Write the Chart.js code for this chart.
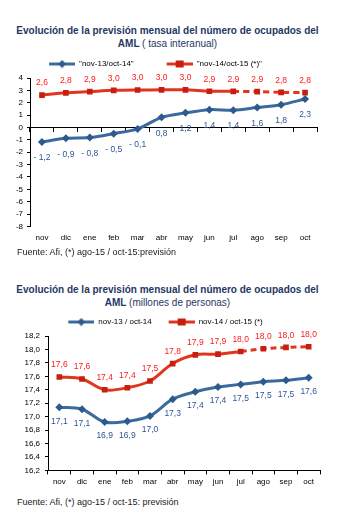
<!DOCTYPE html>
<html>
<head>
<meta charset="utf-8">
<script src="https://cdn.jsdelivr.net/npm/chart.js@4.4.1/dist/chart.umd.min.js"></script>
<style>
  body { margin: 0; background: #fff; font-family: "Liberation Sans", Arial, sans-serif; }
  .title { position: absolute; left: 0; width: 335px; text-align: center; color: #1f3864;
           font-size: 10px; font-weight: bold; line-height: 13px; }
  .title span { font-weight: normal; }
  .foot { position: absolute; left: 17px; font-size: 9px; color: #222; }
  .box { position: absolute; left: 0; width: 350px; }
</style>
</head>
<body>
<div class="title" style="top:24px">Evolución de la previsión mensual del número de ocupados del<br>AML <span>( tasa interanual)</span></div>
<div class="box" style="top:37px;height:217px"><canvas id="tasaChart"></canvas></div>
<div class="foot" style="top:247px">Fuente: Afi, (*) ago-15 / oct-15:previsión</div>

<div class="title" style="top:283px">Evolución de la previsión mensual del número de ocupados del<br>AML <span>(millones de personas)</span></div>
<div class="box" style="top:312px;height:182px"><canvas id="ocupChart"></canvas></div>
<div class="foot" style="top:497px">Fuente: Afi, (*) ago-15 / oct-15: previsión</div>

<script>
const months = ["nov", "dic", "ene", "feb", "mar", "abr", "may", "jun", "jul", "ago", "sep", "oct"];

// tasa interanual (%)
const tasa1314 = [-1.17, -0.88, -0.82, -0.5, -0.12, 0.82, 1.18, 1.44, 1.4, 1.62, 1.84, 2.3];
const tasa1415 = [2.62, 2.8, 2.9, 3.0, 3.03, 3.04, 3.04, 2.93, 2.92, 2.9, 2.84, 2.82];
const tasaTicks = [-8, -7, -6, -5, -4, -3, -2, -1, 0, 1, 2, 3, 4];

// millones de personas
const ocup1314 = [17.14, 17.11, 16.92, 16.93, 17.01, 17.26, 17.37, 17.44, 17.48, 17.52, 17.54, 17.58];
const ocup1415 = [17.59, 17.56, 17.40, 17.43, 17.53, 17.79, 17.92, 17.93, 17.97, 18.01, 18.03, 18.04];
const ocupTicks = [16.2, 16.4, 16.6, 16.8, 17.0, 17.2, 17.4, 17.6, 17.8, 18.0, 18.2];

const FONT = "Liberation Sans";
const BLUE = "#3a6b9c", BLUE_MK = "#2c5a8c", BLUE_TXT = "#2f5597";
const RED = "#e2351e", RED_MK = "#c81e10", RED_TXT = "#ff1a1a";
const FORECAST_FROM = 8; // jul -> ago onwards dashed

function fmt(v) {
    const s = Math.abs(v).toFixed(1).replace(".", ",");
    return v < 0 ? "- " + s : s;
}

// legend swatch: line with marker, empty space on the left as gap
function legendMark(lineColor, markColor, shape, gap) {
    const c = document.createElement("canvas");
    c.width = gap + 26;
    c.height = 9;
    const g = c.getContext("2d");
    g.strokeStyle = lineColor;
    g.lineWidth = 3;
    g.beginPath();
    g.moveTo(gap, 4.5);
    g.lineTo(gap + 26, 4.5);
    g.stroke();
    g.fillStyle = markColor;
    const cx = gap + 13;
    if (shape === "diamond") {
        g.beginPath();
        g.moveTo(cx, 0.5);
        g.lineTo(cx + 4, 4.5);
        g.lineTo(cx, 8.5);
        g.lineTo(cx - 4, 4.5);
        g.closePath();
        g.fill();
    } else {
        g.fillRect(cx - 4, 1, 8, 7);
    }
    return c;
}

const valueLabels = {
    id: "valueLabels",
    afterLayout(chart) {
        const dx = chart.options.legendShift || 0;
        if (chart.legend && dx) {
            chart.legend.left += dx;
            chart.legend.right += dx;
        }
    },
    afterDatasetsDraw(chart) {
        const ctx = chart.ctx;
        chart.data.datasets.forEach((ds, i) => {
            const meta = chart.getDatasetMeta(i);
            ctx.save();
            ctx.font = "8.5px " + FONT;
            ctx.fillStyle = ds.labelColor;
            ctx.textAlign = "center";
            ctx.textBaseline = "middle";
            meta.data.forEach((pt, j) => {
                ctx.fillText(fmt(ds.data[j]), pt.x, pt.y + ds.labelOffset);
            });
            ctx.restore();
        });
    }
};

function dashed(ctx) {
    return ctx.p0DataIndex >= FORECAST_FROM ? [6, 4] : undefined;
}

function makeDatasets(blueData, redData, blueLabel, redLabel, tension, offs) {
    return [
        {
            label: blueLabel,
            data: blueData,
            borderColor: BLUE,
            borderWidth: 3,
            pointStyle: "rectRot",
            pointRadius: 4,
            pointBackgroundColor: BLUE_MK,
            pointBorderColor: BLUE_MK,
            pointBorderWidth: 0,
            tension: tension,
            fill: false,
            labelColor: BLUE_TXT,
            labelOffset: offs[0]
        },
        {
            label: redLabel,
            data: redData,
            borderColor: RED,
            borderWidth: 3,
            pointStyle: "rect",
            pointRadius: 4,
            pointBackgroundColor: RED_MK,
            pointBorderColor: RED_MK,
            pointBorderWidth: 0,
            tension: tension,
            fill: false,
            segment: { borderDash: dashed },
            labelColor: RED_TXT,
            labelOffset: offs[1]
        }
    ];
}

function legendOpts(gap, padding) {
    return {
        display: true,
        position: "top",
        labels: {
            usePointStyle: true,
            pointStyleWidth: gap + 26,
            padding: padding,
            color: "#000",
            font: { family: FONT, size: 8 },
            generateLabels: (chart) => chart.data.datasets.map((ds, i) => ({
                text: ds.label,
                pointStyle: legendMark(ds.borderColor, ds.pointBackgroundColor,
                                       i === 0 ? "diamond" : "square", gap),
                fillStyle: "transparent",
                strokeStyle: "transparent",
                lineWidth: 0,
                fontColor: "#000",
                hidden: false,
                datasetIndex: i
            }))
        }
    };
}

document.addEventListener("DOMContentLoaded", function () {
    // chart 1: tasa interanual
    new Chart(document.getElementById("tasaChart"), {
        type: "line",
        data: {
            labels: months,
            datasets: makeDatasets(tasa1314, tasa1415, "\"nov-13/oct-14\"", "\"nov-14/oct-15 (*)\"", 0.3, [16, -12])
        },
        options: {
            responsive: true,
            maintainAspectRatio: false,
            animation: false,
            legendShift: -8,
            layout: { padding: { left: 0, right: 33, top: 0, bottom: 4 } },
            plugins: {
                legend: legendOpts(10, 23),
                tooltip: { enabled: false }
            },
            scales: {
                x: {
                    type: "category",
                    position: { y: 0 },
                    offset: true,
                    grid: { offset: true, drawOnChartArea: false, drawTicks: true, tickLength: 4, color: "#000" },
                    border: { color: "#000", width: 1 },
                    ticks: { display: false }
                },
                x2: {
                    type: "category",
                    labels: months,
                    position: "bottom",
                    offset: true,
                    grid: { display: false, drawTicks: false },
                    border: { display: false },
                    ticks: { color: "#000", font: { family: FONT, size: 8 }, padding: 7, maxRotation: 0 }
                },
                y: {
                    min: -8,
                    max: 4,
                    afterBuildTicks: (s) => { s.ticks = tasaTicks.map(v => ({ value: v })); },
                    afterFit: (s) => { s.width = 30; },
                    grid: { drawOnChartArea: false, tickLength: 3, color: "#000" },
                    border: { color: "#000", width: 1 },
                    ticks: { color: "#000", font: { family: FONT, size: 8 }, padding: 4, autoSkip: false }
                }
            }
        },
        plugins: [valueLabels]
    });

    // chart 2: millones de personas
    const ds2 = makeDatasets(ocup1314, ocup1415, "nov-13 / oct-14", "nov-14 / oct-15 (*)", 0.35, [14, -12]);
    new Chart(document.getElementById("ocupChart"), {
        type: "line",
        data: { labels: months, datasets: ds2 },
        options: {
            responsive: true,
            maintainAspectRatio: false,
            animation: false,
            layout: { padding: { left: 0, right: 30, top: 0, bottom: 4 } },
            plugins: {
                legend: legendOpts(11, 6),
                tooltip: { enabled: false }
            },
            scales: {
                x: {
                    offset: true,
                    grid: { offset: true, drawOnChartArea: false, tickLength: 4, color: "#000" },
                    border: { color: "#000", width: 1 },
                    ticks: { color: "#000", font: { family: FONT, size: 8 }, padding: 3, maxRotation: 0 }
                },
                y: {
                    min: 16.2,
                    max: 18.2,
                    afterBuildTicks: (s) => { s.ticks = ocupTicks.map(v => ({ value: v })); },
                    afterFit: (s) => { s.width = 48; },
                    grid: { drawOnChartArea: false, tickLength: 3, color: "#000" },
                    border: { color: "#000", width: 1 },
                    ticks: {
                        color: "#000",
                        font: { family: FONT, size: 8 },
                        padding: 5,
                        autoSkip: false,
                        callback: (v) => Number(v).toFixed(1).replace(".", ",")
                    }
                }
            }
        },
        plugins: [valueLabels]
    });
});
</script>
</body>
</html>
